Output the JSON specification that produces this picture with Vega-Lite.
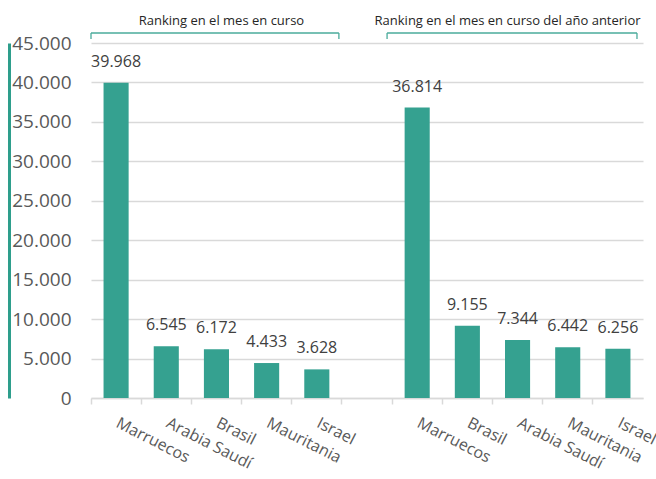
{
  "$schema": "https://vega.github.io/schema/vega-lite/v6.json",
  "autosize": {"type": "none"},
  "padding": {"left": 91, "top": 43, "right": 13, "bottom": 81},
  "background": "white",
  "width": 552,
  "height": 355,
  "config": {
    "font": "Open Sans",
    "view": {"stroke": null},
    "numberFormat": ",.0f",
    "locale": {"number": {"decimal": ",", "thousands": ".", "grouping": [3], "currency": ["", " €"]}}
  },
  "resolve": {"scale": {"y": "independent"}, "axis": {"y": "independent"}},
  "datasets": {
    "barras": [
      {"clave": "A1", "pais": "Marruecos", "toneladas": 39968},
      {"clave": "A2", "pais": "Arabia Saudí", "toneladas": 6545},
      {"clave": "A3", "pais": "Brasil", "toneladas": 6172},
      {"clave": "A4", "pais": "Mauritania", "toneladas": 4433},
      {"clave": "A5", "pais": "Israel", "toneladas": 3628},
      {"clave": "B1", "pais": "Marruecos", "toneladas": 36814},
      {"clave": "B2", "pais": "Brasil", "toneladas": 9155},
      {"clave": "B3", "pais": "Arabia Saudí", "toneladas": 7344},
      {"clave": "B4", "pais": "Mauritania", "toneladas": 6442},
      {"clave": "B5", "pais": "Israel", "toneladas": 6256}
    ],
    "grupo_actual": [
      {"titulo": "Ranking en el mes en curso", "desde": "A1", "hasta": "A5", "centro": "A3"}
    ],
    "grupo_anterior": [
      {"titulo": "Ranking en el mes en curso del año anterior", "desde": "B1", "hasta": "B5", "centro": "B3"}
    ]
  },
  "layer": [
    {
      "data": {"name": "barras"},
      "mark": {"type": "bar", "color": "#35a190", "width": {"band": 0.5}},
      "encoding": {
        "x": {
          "field": "clave", "type": "nominal",
          "scale": {"domain": ["A1", "A2", "A3", "A4", "A5", "hueco", "B1", "B2", "B3", "B4", "B5"], "paddingInner": 0, "paddingOuter": 0},
          "axis": {
            "title": null, "bandPosition": 0, "labels": false, "tickSize": 6, "tickColor": "#d9d9d9", "tickWidth": 1.5,
            "domainColor": "#d9d9d9", "domainWidth": 1.5, "grid": false
          }
        },
        "y": {
          "field": "toneladas", "type": "quantitative",
          "scale": {"domain": [0, 45000], "nice": false},
          "axis": {
            "title": null, "format": ",.0f", "values": [0, 5000, 10000, 15000, 20000, 25000, 30000, 35000, 40000, 45000],
            "offset": 82, "domainColor": "#2e9e8c", "domainWidth": 3, "ticks": false, "tickSize": 0,
            "labelPadding": -62, "labelFontSize": 19, "labelColor": "#595959", "labelOverlap": false,
            "grid": true, "gridColor": "#d9d9d9", "gridWidth": 1.3
          }
        }
      }
    },
    {
      "data": {"name": "barras"},
      "mark": {"type": "text", "fontSize": 16, "color": "#404040", "baseline": "alphabetic", "dy": -16},
      "encoding": {
        "x": {"field": "clave", "type": "nominal"},
        "y": {"field": "toneladas", "type": "quantitative", "scale": {"domain": [0, 45000], "nice": false}, "axis": null},
        "text": {"field": "toneladas", "type": "quantitative", "format": ",.0f"}
      }
    },
    {
      "data": {"name": "barras"},
      "mark": {"type": "text", "fontSize": 16, "color": "#595959", "baseline": "top", "align": "left", "angle": 27, "dx": 12, "dy": 13},
      "encoding": {
        "x": {"field": "clave", "type": "nominal"},
        "y": {"datum": 0, "type": "quantitative", "scale": {"domain": [0, 45000], "nice": false}, "axis": null},
        "text": {"field": "pais", "type": "nominal"}
      }
    },
    {
      "data": {"name": "grupo_actual"},
      "mark": {"type": "rule", "color": "#4aab9b", "strokeWidth": 1.3},
      "encoding": {
        "x": {"field": "desde", "type": "nominal", "bandPosition": 0},
        "x2": {"field": "hasta", "bandPosition": 0.94},
        "y": {"datum": 46268, "type": "quantitative", "scale": {"domain": [0, 45000], "nice": false}, "axis": null}
      }
    },
    {
      "data": {"name": "grupo_actual"},
      "mark": {"type": "rule", "color": "#4aab9b", "strokeWidth": 1.3},
      "encoding": {
        "x": {"field": "desde", "type": "nominal", "bandPosition": 0},
        "y": {"datum": 46268, "type": "quantitative", "scale": {"domain": [0, 45000], "nice": false}, "axis": null},
        "y2": {"datum": 45507}
      }
    },
    {
      "data": {"name": "grupo_actual"},
      "mark": {"type": "rule", "color": "#4aab9b", "strokeWidth": 1.3},
      "encoding": {
        "x": {"field": "hasta", "type": "nominal", "bandPosition": 0.94},
        "y": {"datum": 46268, "type": "quantitative", "scale": {"domain": [0, 45000], "nice": false}, "axis": null},
        "y2": {"datum": 45507}
      }
    },
    {
      "data": {"name": "grupo_actual"},
      "mark": {"type": "text", "fontSize": 13, "color": "#262626", "baseline": "alphabetic", "dx": 5},
      "encoding": {
        "x": {"field": "centro", "type": "nominal"},
        "y": {"datum": 47282, "type": "quantitative", "scale": {"domain": [0, 45000], "nice": false}, "axis": null},
        "text": {"field": "titulo", "type": "nominal"}
      }
    },
    {
      "data": {"name": "grupo_anterior"},
      "mark": {"type": "rule", "color": "#4aab9b", "strokeWidth": 1.3},
      "encoding": {
        "x": {"field": "desde", "type": "nominal", "bandPosition": -0.1},
        "x2": {"field": "hasta", "bandPosition": 0.88},
        "y": {"datum": 46268, "type": "quantitative", "scale": {"domain": [0, 45000], "nice": false}, "axis": null}
      }
    },
    {
      "data": {"name": "grupo_anterior"},
      "mark": {"type": "rule", "color": "#4aab9b", "strokeWidth": 1.3},
      "encoding": {
        "x": {"field": "desde", "type": "nominal", "bandPosition": -0.1},
        "y": {"datum": 46268, "type": "quantitative", "scale": {"domain": [0, 45000], "nice": false}, "axis": null},
        "y2": {"datum": 45507}
      }
    },
    {
      "data": {"name": "grupo_anterior"},
      "mark": {"type": "rule", "color": "#4aab9b", "strokeWidth": 1.3},
      "encoding": {
        "x": {"field": "hasta", "type": "nominal", "bandPosition": 0.88},
        "y": {"datum": 46268, "type": "quantitative", "scale": {"domain": [0, 45000], "nice": false}, "axis": null},
        "y2": {"datum": 45507}
      }
    },
    {
      "data": {"name": "grupo_anterior"},
      "mark": {"type": "text", "fontSize": 13, "color": "#262626", "baseline": "alphabetic", "dx": -10},
      "encoding": {
        "x": {"field": "centro", "type": "nominal"},
        "y": {"datum": 47282, "type": "quantitative", "scale": {"domain": [0, 45000], "nice": false}, "axis": null},
        "text": {"field": "titulo", "type": "nominal"}
      }
    }
  ]
}
